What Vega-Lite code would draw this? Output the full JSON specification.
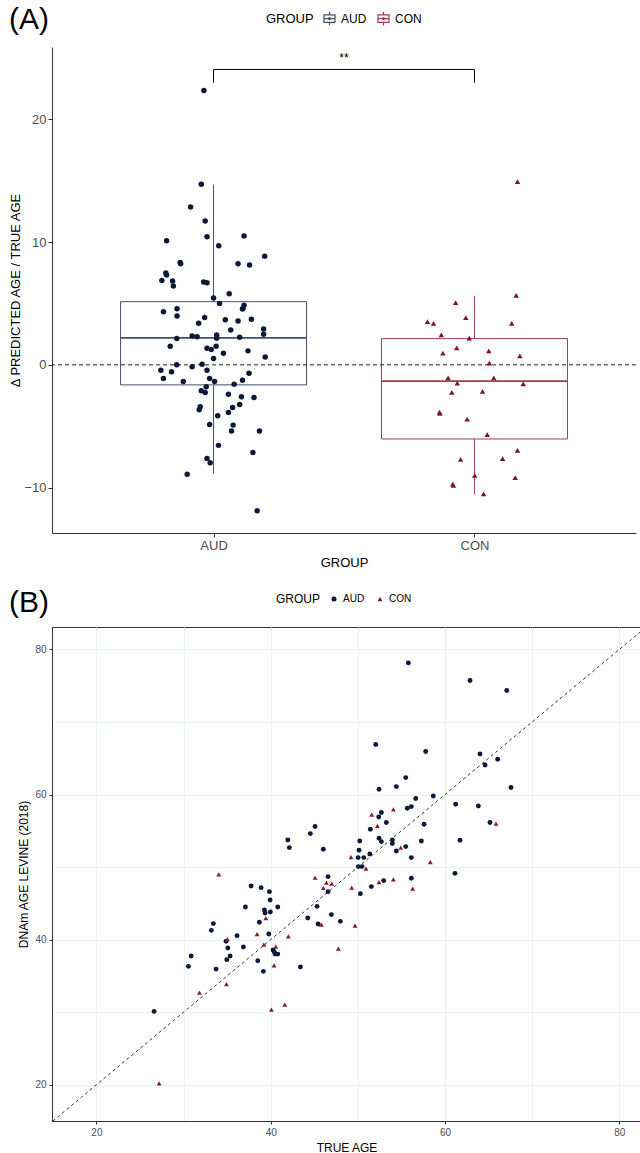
{
  "$schema": "https://vega.github.io/schema/vega-lite/v6.json",
  "padding": {"left": 8, "top": 5, "right": 0, "bottom": 0},
  "background": "white",
  "spacing": 18,
  "config": {
    "font": "Liberation Sans",
    "view": {"stroke": null},
    "axis": {"grid": false, "labelColor": "#4d4d4d", "titleColor": "#000000", "titleFontWeight": "normal", "domainColor": "#333333", "tickColor": "#333333"}
  },
  "resolve": {
    "scale": {"color": "independent", "shape": "independent", "fill": "independent", "stroke": "independent", "x": "independent", "y": "independent"},
    "legend": {"color": "independent", "shape": "independent", "stroke": "independent", "fill": "independent"}
  },
  "datasets": {
    "abox": [
      {"grp": "AUD", "pos": 1, "lo": -8.86, "q1": -1.63, "med": 2.2, "q3": 5.15, "hi": 14.7},
      {"grp": "CON", "pos": 2, "lo": -10.54, "q1": -6.04, "med": -1.33, "q3": 2.14, "hi": 5.63}
    ],
    "apts": [
      {"g":"AUD","jx":0.963,"d":22.36},{"g":"AUD","jx":0.953,"d":14.72},{"g":"AUD","jx":0.912,"d":12.87},{"g":"AUD","jx":0.968,"d":11.73},
      {"g":"AUD","jx":0.820,"d":10.11},{"g":"AUD","jx":0.975,"d":10.43},{"g":"AUD","jx":1.117,"d":10.51},{"g":"AUD","jx":1.020,"d":9.70},
      {"g":"AUD","jx":1.196,"d":8.86},{"g":"AUD","jx":0.872,"d":8.35},{"g":"AUD","jx":0.874,"d":8.24},{"g":"AUD","jx":1.094,"d":8.24},
      {"g":"AUD","jx":1.138,"d":8.13},{"g":"AUD","jx":0.817,"d":7.48},{"g":"AUD","jx":0.820,"d":7.32},{"g":"AUD","jx":0.802,"d":6.88},
      {"g":"AUD","jx":0.843,"d":6.83},{"g":"AUD","jx":0.846,"d":6.42},{"g":"AUD","jx":0.962,"d":6.75},{"g":"AUD","jx":0.975,"d":6.69},
      {"g":"AUD","jx":1.060,"d":5.80},{"g":"AUD","jx":1.000,"d":5.45},{"g":"AUD","jx":1.023,"d":5.01},{"g":"AUD","jx":1.117,"d":4.85},
      {"g":"AUD","jx":1.111,"d":4.55},{"g":"AUD","jx":1.113,"d":4.62},{"g":"AUD","jx":0.808,"d":4.33},{"g":"AUD","jx":0.860,"d":4.58},
      {"g":"AUD","jx":0.860,"d":3.98},{"g":"AUD","jx":0.966,"d":3.85},{"g":"AUD","jx":0.943,"d":3.39},{"g":"AUD","jx":1.045,"d":3.68},
      {"g":"AUD","jx":1.094,"d":3.58},{"g":"AUD","jx":1.145,"d":3.71},{"g":"AUD","jx":1.066,"d":2.85},{"g":"AUD","jx":1.192,"d":2.93},
      {"g":"AUD","jx":1.192,"d":2.49},{"g":"AUD","jx":0.918,"d":2.36},{"g":"AUD","jx":0.937,"d":2.30},{"g":"AUD","jx":1.012,"d":2.44},
      {"g":"AUD","jx":1.012,"d":2.16},{"g":"AUD","jx":0.859,"d":2.14},{"g":"AUD","jx":1.100,"d":2.25},{"g":"AUD","jx":0.834,"d":1.52},
      {"g":"AUD","jx":0.975,"d":1.36},{"g":"AUD","jx":0.991,"d":1.25},{"g":"AUD","jx":1.010,"d":1.52},{"g":"AUD","jx":1.038,"d":0.95},
      {"g":"AUD","jx":1.132,"d":1.14},{"g":"AUD","jx":1.198,"d":0.65},{"g":"AUD","jx":1.000,"d":0.51},{"g":"AUD","jx":0.859,"d":0.0},
      {"g":"AUD","jx":0.956,"d":0.05},{"g":"AUD","jx":0.918,"d":-0.16},{"g":"AUD","jx":0.798,"d":-0.43},{"g":"AUD","jx":0.839,"d":-0.57},
      {"g":"AUD","jx":0.975,"d":-0.43},{"g":"AUD","jx":1.136,"d":-0.68},{"g":"AUD","jx":0.808,"d":-1.11},{"g":"AUD","jx":0.985,"d":-1.11},
      {"g":"AUD","jx":0.884,"d":-1.35},{"g":"AUD","jx":1.004,"d":-1.35},{"g":"AUD","jx":1.111,"d":-1.25},{"g":"AUD","jx":1.079,"d":-1.57},
      {"g":"AUD","jx":0.972,"d":-1.79},{"g":"AUD","jx":0.953,"d":-2.11},{"g":"AUD","jx":0.968,"d":-2.25},{"g":"AUD","jx":1.057,"d":-2.39},
      {"g":"AUD","jx":1.107,"d":-2.60},{"g":"AUD","jx":1.155,"d":-2.66},{"g":"AUD","jx":1.100,"d":-3.23},{"g":"AUD","jx":1.073,"d":-3.47},
      {"g":"AUD","jx":0.949,"d":-3.41},{"g":"AUD","jx":0.945,"d":-3.66},{"g":"AUD","jx":1.057,"d":-3.88},{"g":"AUD","jx":1.016,"d":-4.15},
      {"g":"AUD","jx":0.985,"d":-4.85},{"g":"AUD","jx":1.075,"d":-4.91},{"g":"AUD","jx":1.069,"d":-5.39},{"g":"AUD","jx":1.176,"d":-5.39},
      {"g":"AUD","jx":1.019,"d":-6.56},{"g":"AUD","jx":1.151,"d":-7.15},{"g":"AUD","jx":0.975,"d":-7.62},{"g":"AUD","jx":0.987,"d":-7.97},
      {"g":"AUD","jx":0.899,"d":-8.92},{"g":"AUD","jx":1.167,"d":-11.89},
      {"g":"CON","jx":2.165,"d":14.93},{"g":"CON","jx":2.160,"d":5.67},{"g":"CON","jx":1.928,"d":5.07},{"g":"CON","jx":1.967,"d":3.85},
      {"g":"CON","jx":1.820,"d":3.52},{"g":"CON","jx":1.843,"d":3.39},{"g":"CON","jx":2.143,"d":3.39},{"g":"CON","jx":1.873,"d":2.44},
      {"g":"CON","jx":1.980,"d":2.17},{"g":"CON","jx":1.932,"d":1.38},{"g":"CON","jx":1.879,"d":0.95},{"g":"CON","jx":2.055,"d":1.14},
      {"g":"CON","jx":2.174,"d":0.73},{"g":"CON","jx":2.057,"d":0.14},{"g":"CON","jx":1.899,"d":-1.06},{"g":"CON","jx":2.074,"d":-1.06},
      {"g":"CON","jx":1.934,"d":-1.49},{"g":"CON","jx":2.187,"d":-1.54},{"g":"CON","jx":1.913,"d":-2.25},{"g":"CON","jx":2.031,"d":-2.17},
      {"g":"CON","jx":1.866,"d":-3.85},{"g":"CON","jx":1.868,"d":-3.95},{"g":"CON","jx":1.972,"d":-4.42},{"g":"CON","jx":2.049,"d":-5.69},
      {"g":"CON","jx":2.165,"d":-6.97},{"g":"CON","jx":1.947,"d":-7.70},{"g":"CON","jx":2.108,"d":-7.64},{"g":"CON","jx":2.001,"d":-9.0},
      {"g":"CON","jx":2.156,"d":-9.19},{"g":"CON","jx":1.917,"d":-9.72},{"g":"CON","jx":1.919,"d":-9.82},{"g":"CON","jx":2.035,"d":-10.51}
    ],
    "bpts": [
      {"g":"AUD","age":52.70,"dnam":57.52},{"g":"AUD","age":52.40,"dnam":56.91},{"g":"AUD","age":53.27,"dnam":56.14},{"g":"AUD","age":51.44,"dnam":55.21},
      {"g":"AUD","age":52.43,"dnam":53.97},{"g":"AUD","age":52.70,"dnam":53.52},{"g":"AUD","age":50.22,"dnam":53.60},{"g":"AUD","age":50.14,"dnam":52.32},
      {"g":"AUD","age":51.37,"dnam":51.81},{"g":"AUD","age":50.03,"dnam":51.31},{"g":"AUD","age":50.68,"dnam":51.31},{"g":"AUD","age":50.06,"dnam":50.07},
      {"g":"AUD","age":50.48,"dnam":50.07},{"g":"AUD","age":45.09,"dnam":55.59},{"g":"AUD","age":44.55,"dnam":54.62},{"g":"AUD","age":41.96,"dnam":53.74},
      {"g":"AUD","age":42.14,"dnam":52.69},{"g":"AUD","age":46.04,"dnam":52.46},{"g":"AUD","age":46.58,"dnam":48.69},{"g":"AUD","age":52.97,"dnam":48.14},
      {"g":"AUD","age":51.55,"dnam":47.31},{"g":"AUD","age":50.29,"dnam":46.34},{"g":"AUD","age":46.58,"dnam":46.62},{"g":"AUD","age":37.75,"dnam":47.39},
      {"g":"AUD","age":38.90,"dnam":47.17},{"g":"AUD","age":39.85,"dnam":46.62},{"g":"AUD","age":39.93,"dnam":45.46},{"g":"AUD","age":37.10,"dnam":44.50},
      {"g":"AUD","age":40.81,"dnam":44.50},{"g":"AUD","age":39.28,"dnam":44.08},{"g":"AUD","age":39.36,"dnam":43.67},{"g":"AUD","age":39.96,"dnam":43.81},
      {"g":"AUD","age":38.70,"dnam":42.39},{"g":"AUD","age":45.32,"dnam":44.59},{"g":"AUD","age":44.25,"dnam":42.98},{"g":"AUD","age":46.96,"dnam":43.45},
      {"g":"AUD","age":48.00,"dnam":42.52},{"g":"AUD","age":45.44,"dnam":42.15},{"g":"AUD","age":33.42,"dnam":42.21},{"g":"AUD","age":33.19,"dnam":41.28},
      {"g":"AUD","age":36.14,"dnam":40.55},{"g":"AUD","age":39.78,"dnam":40.77},{"g":"AUD","age":34.88,"dnam":39.77},{"g":"AUD","age":35.08,"dnam":38.84},
      {"g":"AUD","age":36.87,"dnam":38.98},{"g":"AUD","age":40.27,"dnam":38.57},{"g":"AUD","age":40.42,"dnam":38.29},{"g":"AUD","age":40.50,"dnam":38.01},
      {"g":"AUD","age":40.81,"dnam":38.01},{"g":"AUD","age":35.34,"dnam":37.74},{"g":"AUD","age":34.96,"dnam":37.24},{"g":"AUD","age":30.87,"dnam":37.74},
      {"g":"AUD","age":30.56,"dnam":36.32},{"g":"AUD","age":33.73,"dnam":35.94},{"g":"AUD","age":38.52,"dnam":37.10},{"g":"AUD","age":39.16,"dnam":35.63},
      {"g":"AUD","age":43.41,"dnam":36.22},{"g":"AUD","age":26.62,"dnam":30.11},{"g":"AUD","age":52.06,"dnam":66.90},{"g":"AUD","age":57.79,"dnam":65.93},
      {"g":"AUD","age":64.02,"dnam":65.60},{"g":"AUD","age":66.05,"dnam":64.87},{"g":"AUD","age":64.60,"dnam":64.08},{"g":"AUD","age":55.50,"dnam":62.34},
      {"g":"AUD","age":52.43,"dnam":60.73},{"g":"AUD","age":54.42,"dnam":61.10},{"g":"AUD","age":67.58,"dnam":60.97},{"g":"AUD","age":56.65,"dnam":59.45},
      {"g":"AUD","age":58.66,"dnam":59.81},{"g":"AUD","age":61.23,"dnam":58.66},{"g":"AUD","age":63.83,"dnam":58.43},{"g":"AUD","age":55.68,"dnam":58.11},
      {"g":"AUD","age":56.14,"dnam":58.34},{"g":"AUD","age":57.60,"dnam":55.90},{"g":"AUD","age":65.17,"dnam":56.14},{"g":"AUD","age":61.73,"dnam":53.70},
      {"g":"AUD","age":53.96,"dnam":53.74},{"g":"AUD","age":53.96,"dnam":53.24},{"g":"AUD","age":57.29,"dnam":53.60},{"g":"AUD","age":55.50,"dnam":52.83},
      {"g":"AUD","age":54.42,"dnam":52.22},{"g":"AUD","age":56.14,"dnam":51.31},{"g":"AUD","age":61.15,"dnam":49.14},{"g":"AUD","age":56.14,"dnam":48.46},
      {"g":"AUD","age":55.80,"dnam":78.15},{"g":"AUD","age":62.88,"dnam":75.72},{"g":"AUD","age":67.09,"dnam":74.34},
      {"g":"CON","age":51.60,"dnam":57.24},{"g":"CON","age":52.24,"dnam":55.67},{"g":"CON","age":49.22,"dnam":51.39},{"g":"CON","age":50.94,"dnam":49.79},
      {"g":"CON","age":34.04,"dnam":49.01},{"g":"CON","age":45.09,"dnam":48.55},{"g":"CON","age":46.39,"dnam":47.86},{"g":"CON","age":47.01,"dnam":47.72},
      {"g":"CON","age":46.04,"dnam":47.12},{"g":"CON","age":49.30,"dnam":47.17},{"g":"CON","age":52.43,"dnam":47.94},{"g":"CON","age":39.44,"dnam":42.98},
      {"g":"CON","age":45.81,"dnam":42.07},{"g":"CON","age":49.68,"dnam":41.93},{"g":"CON","age":38.44,"dnam":40.77},{"g":"CON","age":42.03,"dnam":40.46},
      {"g":"CON","age":35.03,"dnam":40.08},{"g":"CON","age":39.21,"dnam":39.31},{"g":"CON","age":40.58,"dnam":39.03},{"g":"CON","age":47.77,"dnam":38.76},
      {"g":"CON","age":40.39,"dnam":36.45},{"g":"CON","age":27.19,"dnam":20.18},{"g":"CON","age":31.82,"dnam":32.69},{"g":"CON","age":34.92,"dnam":33.88},
      {"g":"CON","age":40.08,"dnam":30.34},{"g":"CON","age":41.62,"dnam":31.03},{"g":"CON","age":56.30,"dnam":47.03},{"g":"CON","age":54.08,"dnam":57.97},
      {"g":"CON","age":54.92,"dnam":52.69},{"g":"CON","age":58.32,"dnam":50.70},{"g":"CON","age":65.86,"dnam":56.00},{"g":"CON","age":54.08,"dnam":48.32}
    ]
  },
  "vconcat": [
    {
      "width": 584,
      "height": 486,
      "view": {"stroke": null},
      "title": {"text": "(A)", "anchor": "start", "frame": "group", "fontSize": 30, "fontWeight": "normal", "color": "#000000", "dx": -43, "dy": 30, "offset": 6},
      "layer": [
        {
          "data": {"name": "abox"},
          "mark": {"type": "rule", "strokeWidth": 1},
          "encoding": {
            "x": {"field": "pos", "type": "quantitative", "scale": {"domain": [0.4, 2.6], "nice": false, "zero": false},
              "axis": {"values": [1, 2], "labelExpr": "datum.value == 1 ? 'AUD' : 'CON'", "title": "GROUP", "labelFontSize": 13, "titleFontSize": 13, "tickSize": 4, "labelPadding": 2, "titlePadding": 4}},
            "y": {"field": "lo", "type": "quantitative", "scale": {"domain": [-13.7, 25.9], "nice": false, "zero": false},
              "axis": {"values": [-10, 0, 10, 20], "title": "Δ PREDICTED AGE / TRUE AGE", "labelFontSize": 13, "titleFontSize": 13, "tickSize": 4, "labelPadding": 2, "titlePadding": 1}},
            "y2": {"field": "q1"},
            "stroke": {"field": "grp", "type": "nominal", "scale": {"domain": ["AUD", "CON"], "range": ["#46506b", "#a23c50"]},
              "legend": {"title": "GROUP", "orient": "none", "legendX": 214, "legendY": -36, "direction": "horizontal", "titleOrient": "left", "titleFontSize": 13, "titleFontWeight": "normal", "titleColor": "#000000", "titlePadding": 8, "labelFontSize": 12, "labelColor": "#000000", "symbolType": "M-0.8,-0.55H0.8V0.55H-0.8Z M0,-1V-0.55 M0,0.55V1 M-0.8,0H0.8 M0.15,0A0.15,0.15 0 1,1 -0.15,0A0.15,0.15 0 1,1 0.15,0", "symbolSize": 190, "symbolStrokeWidth": 1.2, "symbolFillColor": "transparent", "columnPadding": 8}}
          }
        },
        {
          "data": {"name": "abox"},
          "mark": {"type": "rule", "strokeWidth": 1},
          "encoding": {
            "x": {"field": "pos", "type": "quantitative"},
            "y": {"field": "q3", "type": "quantitative"},
            "y2": {"field": "hi"},
            "stroke": {"field": "grp", "type": "nominal"}
          }
        },
        {
          "data": {"name": "abox"},
          "mark": {"type": "bar", "size": 186, "filled": false, "strokeWidth": 1, "orient": "vertical"},
          "encoding": {
            "x": {"field": "pos", "type": "quantitative"},
            "y": {"field": "q1", "type": "quantitative"},
            "y2": {"field": "q3"},
            "stroke": {"field": "grp", "type": "nominal"}
          }
        },
        {
          "data": {"name": "abox"},
          "mark": {"type": "bar", "size": 186, "filled": false, "strokeWidth": 1.8, "orient": "vertical"},
          "encoding": {
            "x": {"field": "pos", "type": "quantitative"},
            "y": {"field": "med", "type": "quantitative"},
            "y2": {"field": "med"},
            "stroke": {"field": "grp", "type": "nominal"}
          }
        },
        {
          "data": {"values": [{}]},
          "mark": {"type": "rule", "strokeDash": [4, 3], "color": "#222222", "strokeWidth": 1},
          "encoding": {"y": {"datum": 0}}
        },
        {
          "data": {"name": "apts"},
          "mark": {"type": "point", "filled": true, "size": 30, "opacity": 1},
          "encoding": {
            "x": {"field": "jx", "type": "quantitative"},
            "y": {"field": "d", "type": "quantitative"},
            "fill": {"field": "g", "type": "nominal", "scale": {"domain": ["CON", "AUD"], "range": ["#7e1527", "#0d1838"]}, "legend": null},
            "shape": {"field": "g", "type": "nominal", "scale": {"domain": ["CON", "AUD"], "range": ["triangle-up", "circle"]}, "legend": null}
          }
        },
        {
          "data": {"values": [{"bx": 1}, {"bx": 2}]},
          "mark": {"type": "rule", "color": "#000000", "strokeWidth": 1},
          "encoding": {
            "x": {"field": "bx", "type": "quantitative"},
            "y": {"datum": 22.98},
            "y2": {"datum": 24.07}
          }
        },
        {
          "data": {"values": [{}]},
          "mark": {"type": "rule", "color": "#000000", "strokeWidth": 1},
          "encoding": {
            "x": {"datum": 1},
            "x2": {"datum": 2},
            "y": {"datum": 24.07}
          }
        },
        {
          "data": {"values": [{"t": "**"}]},
          "mark": {"type": "text", "fontSize": 12, "color": "#000000", "baseline": "middle"},
          "encoding": {
            "x": {"datum": 1.5},
            "y": {"datum": 25.0},
            "text": {"field": "t"}
          }
        }
      ]
    },
    {
      "width": 589,
      "height": 494,
      "view": {"stroke": "#333333", "strokeWidth": 1},
      "title": {"text": "(B)", "anchor": "start", "frame": "group", "fontSize": 30, "fontWeight": "normal", "color": "#000000", "dx": -43, "dy": 30, "offset": 6},
      "layer": [
        {
          "data": {"name": "bpts"},
          "mark": {"type": "point", "filled": true, "size": 24, "opacity": 1},
          "encoding": {
            "x": {"field": "age", "type": "quantitative", "scale": {"domain": [14.9, 82.5], "nice": false, "zero": false},
              "axis": {"values": [20, 30, 40, 50, 60, 70, 80], "labelExpr": "datum.value % 20 == 0 ? datum.label : ''", "title": "TRUE AGE", "grid": true, "gridColor": "#e6f6e6", "gridWidth": 1, "labelFontSize": 10, "titleFontSize": 12, "tickSize": 3, "labelPadding": 3, "titlePadding": 5,
                "tickOpacity": {"condition": {"test": "datum.value % 20 != 0", "value": 0}, "value": 1}}},
            "y": {"field": "dnam", "type": "quantitative", "scale": {"domain": [15, 83.1], "nice": false, "zero": false},
              "axis": {"values": [20, 30, 40, 50, 60, 70, 80], "labelExpr": "datum.value % 20 == 0 ? datum.label : ''", "title": "DNAm AGE LEVINE (2018)", "grid": true, "gridColor": "#e6f6e6", "gridWidth": 1, "labelFontSize": 10, "titleFontSize": 12, "tickSize": 3, "labelPadding": 3, "titlePadding": 4,
                "tickOpacity": {"condition": {"test": "datum.value % 20 != 0", "value": 0}, "value": 1}}},
            "color": {"field": "g", "type": "nominal", "scale": {"domain": ["AUD", "CON"], "range": ["#0d1838", "#8b1a2e"]},
              "legend": {"title": "GROUP", "orient": "none", "legendX": 224, "legendY": -33, "direction": "horizontal", "titleOrient": "left", "titleFontSize": 12, "titleFontWeight": "normal", "titleColor": "#000000", "titlePadding": 8, "labelFontSize": 10, "labelColor": "#000000", "symbolSize": 25, "columnPadding": 10}},
            "shape": {"field": "g", "type": "nominal", "scale": {"domain": ["AUD", "CON"], "range": ["circle", "triangle-up"]}}
          }
        },
        {
          "data": {"values": [{"a": 15, "b": 82.5}]},
          "mark": {"type": "rule", "strokeDash": [3, 3], "color": "#333333", "strokeWidth": 1},
          "encoding": {
            "x": {"field": "a", "type": "quantitative"},
            "y": {"field": "a", "type": "quantitative"},
            "x2": {"field": "b"},
            "y2": {"field": "b"}
          }
        }
      ]
    }
  ]
}
